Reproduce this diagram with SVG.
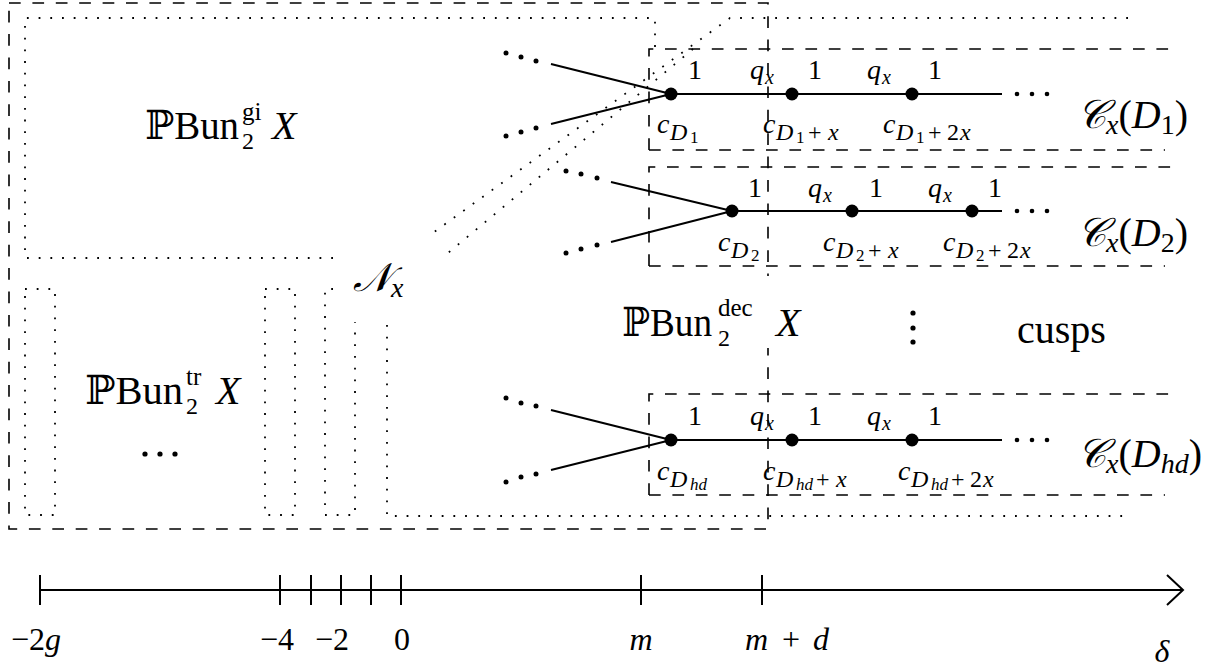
<svg xmlns="http://www.w3.org/2000/svg" width="1220" height="671" viewBox="0 0 1220 671">
<style>
.dash{fill:none;stroke:#000;stroke-width:1.6;stroke-dasharray:11.7 11.7}
.dot{fill:none;stroke:#000;stroke-width:1.8;stroke-dasharray:1.8 9.9}
.sol{fill:none;stroke:#000;stroke-width:2}
.m{font-family:"Liberation Serif","DejaVu Serif",serif;font-style:italic;fill:#000}
.r{font-family:"Liberation Serif","DejaVu Serif",serif;font-style:normal;fill:#000}
.up{font-style:normal}
.big{font-size:40px}
.lab{font-size:28px}
</style>
<rect width="1220" height="671" fill="#fff"/>

<g id="regions">
  <rect class="dash" x="9" y="3" width="759" height="526"/>
  <path class="dot" d="M333,258 H25 V18 H655 V47"/>
  <path class="dot" d="M693,49 L442,258"/>
  <path class="dot" d="M1128,18 H730 L430,235"/>
  <rect class="dot" x="25" y="289" width="30" height="226"/>
  <rect class="dot" x="265" y="289" width="30" height="226"/>
  <path class="dot" d="M333,289 H325 V515 H355 V322"/>
  <path class="dot" d="M387,325 V516 H1128"/>
  <path class="dash" d="M649,150 V49 H1177 M649,150 H1165"/>
  <path class="dash" d="M649,266 V167 H1177 M649,266 H1165"/>
  <path class="dash" d="M649,495 V394 H1177 M649,495 H1165"/>
</g>

<g id="connectors">
  <path class="sol" d="M551,64 L671,94 L551,124 M671,94 H1002"/>
  <path class="sol" d="M611,182 L732,211 L611,242 M732,211 H1002"/>
  <path class="sol" d="M551,410 L671,440 L551,470 M671,440 H1002"/>
</g>

<g id="dots" fill="#000">
  <circle cx="506" cy="53" r="2.5"/><circle cx="521" cy="57" r="2.5"/><circle cx="536" cy="61" r="2.5"/>
  <circle cx="506" cy="136" r="2.5"/><circle cx="521" cy="132" r="2.5"/><circle cx="536" cy="128" r="2.5"/>
  <circle cx="566" cy="171" r="2.5"/><circle cx="581" cy="174" r="2.5"/><circle cx="597" cy="178" r="2.5"/>
  <circle cx="566" cy="253" r="2.5"/><circle cx="581" cy="249" r="2.5"/><circle cx="597" cy="245" r="2.5"/>
  <circle cx="506" cy="398" r="2.5"/><circle cx="521" cy="403" r="2.5"/><circle cx="536" cy="406" r="2.5"/>
  <circle cx="506" cy="482" r="2.5"/><circle cx="521" cy="477" r="2.5"/><circle cx="536" cy="474" r="2.5"/>
  <circle cx="1017" cy="94" r="2.3"/><circle cx="1032" cy="94" r="2.3"/><circle cx="1047" cy="94" r="2.3"/>
  <circle cx="1017" cy="211" r="2.3"/><circle cx="1032" cy="211" r="2.3"/><circle cx="1047" cy="211" r="2.3"/>
  <circle cx="1017" cy="440" r="2.3"/><circle cx="1032" cy="440" r="2.3"/><circle cx="1047" cy="440" r="2.3"/>
  <circle cx="913" cy="313" r="2.6"/><circle cx="913" cy="328" r="2.6"/><circle cx="913" cy="342" r="2.6"/>
  <circle cx="145" cy="454" r="2.6"/><circle cx="160" cy="454" r="2.6"/><circle cx="175" cy="454" r="2.6"/>
</g>

<g id="gi">
  <text class="r big" x="145" y="139" textLength="94" lengthAdjust="spacingAndGlyphs">ℙBun</text>
  <text class="r" x="242" y="149" font-size="24">2</text>
  <text class="r" x="242" y="120" font-size="25">gi</text>
  <text class="m big" x="272" y="139">X</text>
</g>

<g id="tr">
  <text class="r big" x="85" y="404" textLength="98" lengthAdjust="spacingAndGlyphs">ℙBun</text>
  <text class="r" x="186" y="414" font-size="24">2</text>
  <text class="r" x="186" y="385" font-size="25">tr</text>
  <text class="m big" x="216" y="404">X</text>
</g>

<g id="Nx">
  <text class="m big" x="353" y="291">𝒩<tspan font-size="28" dy="6">x</tspan></text>
</g>

<g id="dec">
  <rect x="615" y="276" width="190" height="72" fill="#fff"/>
  <text class="r big" x="622" y="336" textLength="90" lengthAdjust="spacingAndGlyphs">ℙBun</text>
  <text class="r" x="718" y="346" font-size="24">2</text>
  <text class="r" x="718" y="316" font-size="25">dec</text>
  <text class="m big" x="776" y="336">X</text>
</g>

<g id="cusps">
  <text class="r big" x="1017" y="343">cusps</text>
</g>

<g id="chain-D1">
  <circle cx="671" cy="94" r="6.5"/><circle cx="792" cy="94" r="6.5"/><circle cx="912" cy="94" r="6.5"/>
  <text class="r lab" x="688" y="79">1</text>
  <text class="m lab" x="750" y="79">q<tspan font-size="20" x="765" dy="5">x</tspan></text>
  <text class="r lab" x="808" y="79">1</text>
  <text class="m lab" x="867" y="79">q<tspan font-size="20" x="882" dy="5">x</tspan></text>
  <text class="r lab" x="928" y="79">1</text>
  <text class="m lab" x="657" y="133">c<tspan font-size="24" x="670" dy="7">D</tspan><tspan class="up" font-size="17" x="690" dy="3">1</tspan></text>
  <text class="m lab" x="763" y="133">c<tspan font-size="24" x="776" dy="7">D</tspan><tspan class="up" font-size="17" x="796" dy="3">1</tspan><tspan class="up" font-size="24" x="808" dy="-3">+</tspan><tspan font-size="24" x="828">x</tspan></text>
  <text class="m lab" x="883" y="133">c<tspan font-size="24" x="896" dy="7">D</tspan><tspan class="up" font-size="17" x="916" dy="3">1</tspan><tspan class="up" font-size="24" x="928" dy="-3">+</tspan><tspan class="up" font-size="24" x="947">2</tspan><tspan font-size="24" x="960">x</tspan></text>
  <text class="m big" x="1077" y="128">𝒞<tspan font-size="28" dy="6">x</tspan><tspan class="up" dy="-6">(</tspan>D<tspan class="up" font-size="28" dy="6">1</tspan><tspan class="up" dy="-6">)</tspan></text>
</g>

<g id="chain-D2">
  <circle cx="732" cy="211" r="6.5"/><circle cx="852" cy="211" r="6.5"/><circle cx="972" cy="211" r="6.5"/>
  <text class="r lab" x="748" y="197">1</text>
  <text class="m lab" x="808" y="197">q<tspan font-size="20" x="823" dy="5">x</tspan></text>
  <text class="r lab" x="869" y="197">1</text>
  <text class="m lab" x="928" y="197">q<tspan font-size="20" x="943" dy="5">x</tspan></text>
  <text class="r lab" x="988" y="197">1</text>
  <text class="m lab" x="718" y="251">c<tspan font-size="24" x="731" dy="7">D</tspan><tspan class="up" font-size="17" x="751" dy="3">2</tspan></text>
  <text class="m lab" x="823" y="251">c<tspan font-size="24" x="836" dy="7">D</tspan><tspan class="up" font-size="17" x="856" dy="3">2</tspan><tspan class="up" font-size="24" x="868" dy="-3">+</tspan><tspan font-size="24" x="888">x</tspan></text>
  <text class="m lab" x="943" y="251">c<tspan font-size="24" x="956" dy="7">D</tspan><tspan class="up" font-size="17" x="976" dy="3">2</tspan><tspan class="up" font-size="24" x="988" dy="-3">+</tspan><tspan class="up" font-size="24" x="1007">2</tspan><tspan font-size="24" x="1020">x</tspan></text>
  <text class="m big" x="1077" y="246">𝒞<tspan font-size="28" dy="6">x</tspan><tspan class="up" dy="-6">(</tspan>D<tspan class="up" font-size="28" dy="6">2</tspan><tspan class="up" dy="-6">)</tspan></text>
</g>

<g id="chain-Dhd">
  <circle cx="671" cy="440" r="6.5"/><circle cx="792" cy="440" r="6.5"/><circle cx="912" cy="440" r="6.5"/>
  <text class="r lab" x="688" y="425">1</text>
  <text class="m lab" x="750" y="425">q<tspan font-size="20" x="765" dy="5">x</tspan></text>
  <text class="r lab" x="808" y="425">1</text>
  <text class="m lab" x="867" y="425">q<tspan font-size="20" x="882" dy="5">x</tspan></text>
  <text class="r lab" x="928" y="425">1</text>
  <text class="m lab" x="657" y="480">c<tspan font-size="24" x="670" dy="7">D</tspan><tspan font-size="17" x="690" dy="3">hd</tspan></text>
  <text class="m lab" x="763" y="480">c<tspan font-size="24" x="776" dy="7">D</tspan><tspan font-size="17" x="796" dy="3">hd</tspan><tspan class="up" font-size="24" x="816" dy="-3">+</tspan><tspan font-size="24" x="836">x</tspan></text>
  <text class="m lab" x="898" y="480">c<tspan font-size="24" x="911" dy="7">D</tspan><tspan font-size="17" x="931" dy="3">hd</tspan><tspan class="up" font-size="24" x="951" dy="-3">+</tspan><tspan class="up" font-size="24" x="970">2</tspan><tspan font-size="24" x="983">x</tspan></text>
  <text class="m big" x="1077" y="467">𝒞<tspan font-size="28" dy="6">x</tspan><tspan class="up" dy="-6">(</tspan>D<tspan font-size="28" dy="6">hd</tspan><tspan class="up" dy="-6">)</tspan></text>
</g>

<g id="axis">
  <path class="sol" d="M40,590 H1183 M1167,575 L1183,590 L1167,605"/>
  <path class="sol" d="M40,575 V605 M280,575 V605 M311,575 V605 M341,575 V605 M371,575 V605 M401,575 V605 M641,575 V605 M762,575 V605"/>
  <text class="m" font-size="32" x="11" y="650"><tspan class="up">−2</tspan>g</text>
  <text class="r" font-size="32" x="260" y="650">−4</text>
  <text class="r" font-size="32" x="315" y="650">−2</text>
  <text class="r" font-size="32" x="402" y="650" text-anchor="middle">0</text>
  <text class="m" font-size="32" x="641" y="650" text-anchor="middle">m</text>
  <text class="m" font-size="32" x="745" y="650">m<tspan class="up" x="782">+</tspan><tspan x="813">d</tspan></text>
  <text class="m" font-size="32" x="1162" y="662" text-anchor="middle">δ</text>
</g>
</svg>
